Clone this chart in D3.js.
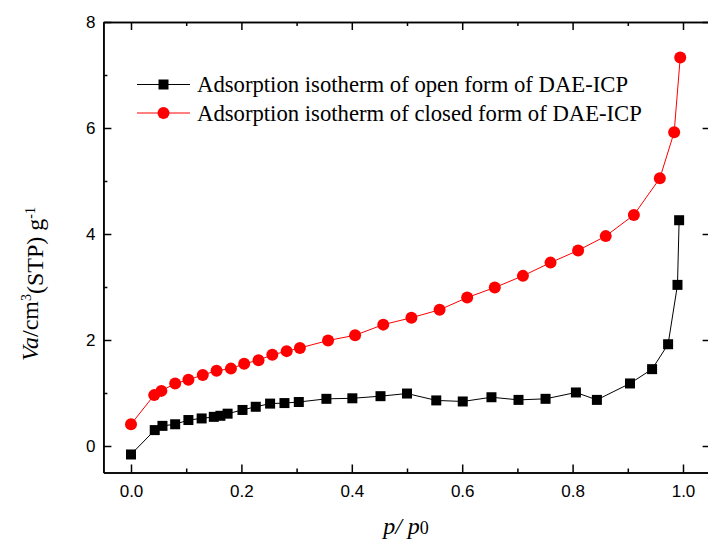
<!DOCTYPE html>
<html>
<head>
<meta charset="utf-8">
<script src="https://cdn.jsdelivr.net/npm/d3@7"></script>
<style>
  body { margin: 0; background: #fff; }
  .tick text { font-family: "Liberation Sans", Arial, sans-serif; font-size: 17px; fill: #000; }
  .axis path, .axis line { stroke: #000; stroke-width: 1.5; }
</style>
</head>
<body>
<script>
// open form (black squares)
var openX = [0, 0.043, 0.057, 0.080, 0.104, 0.128, 0.150, 0.162, 0.175, 0.202, 0.226, 0.252, 0.278, 0.304,
             0.354, 0.401, 0.452, 0.500, 0.553, 0.601, 0.653, 0.702, 0.751, 0.806, 0.844, 0.904, 0.944, 0.973, 0.990, 0.993];
var openY = [-0.16, 0.30, 0.38, 0.41, 0.49, 0.52, 0.55, 0.57, 0.61, 0.68, 0.74, 0.80, 0.81, 0.83,
             0.89, 0.90, 0.94, 0.99, 0.86, 0.84, 0.92, 0.87, 0.89, 1.01, 0.87, 1.18, 1.45, 1.92, 3.04, 4.26];

// closed form (red circles)
var closedX = [0, 0.042, 0.055, 0.080, 0.104, 0.130, 0.155, 0.181, 0.205, 0.231, 0.256, 0.282, 0.306, 0.357,
               0.406, 0.457, 0.508, 0.559, 0.609, 0.659, 0.710, 0.760, 0.810, 0.860, 0.911, 0.958, 0.984, 0.995];
var closedY = [0.41, 0.96, 1.04, 1.18, 1.25, 1.34, 1.42, 1.46, 1.55, 1.62, 1.72, 1.79, 1.85, 1.99,
               2.09, 2.29, 2.42, 2.57, 2.80, 2.99, 3.21, 3.46, 3.69, 3.96, 4.36, 5.05, 5.92, 7.33];

var xMajor = [0, 0.2, 0.4, 0.6, 0.8, 1.0];
var xMinor = [0.1, 0.3, 0.5, 0.7, 0.9];
var yMajor = [0, 2, 4, 6, 8];
var yMinor = [1, 3, 5, 7];

var legendLabels = ["Adsorption isotherm of open form of DAE-ICP",
                    "Adsorption isotherm of closed form of DAE-ICP"];

var W = 708, H = 547;
var plotL = 103.4, plotR = 710.6, plotT = 22, plotB = 472.5;

var svg = d3.select("body").append("svg")
    .attr("width", W)
    .attr("height", H);

var x = d3.scaleLinear().domain([-0.05, 1.05]).range([plotL, plotR]);
var y = d3.scaleLinear().domain([-0.5, 8]).range([plotB, plotT]);

// axes, ticks pointing inward
function drawAxes() {
  svg.append("g").attr("class", "axis")
    .attr("transform", "translate(0," + plotB + ")")
    .call(d3.axisBottom(x).tickValues(xMajor).tickFormat(d3.format(".1f"))
      .tickSizeInner(-8).tickSizeOuter(0).tickPadding(12));
  svg.append("g").attr("class", "axis")
    .attr("transform", "translate(0," + plotB + ")")
    .call(d3.axisBottom(x).tickValues(xMinor).tickFormat("").tickSizeInner(-4).tickSizeOuter(0));

  svg.append("g").attr("class", "axis")
    .attr("transform", "translate(0," + plotT + ")")
    .call(d3.axisTop(x).tickValues(xMajor).tickFormat("").tickSizeInner(-8).tickSizeOuter(0));
  svg.append("g").attr("class", "axis")
    .attr("transform", "translate(0," + plotT + ")")
    .call(d3.axisTop(x).tickValues(xMinor).tickFormat("").tickSizeInner(-4).tickSizeOuter(0));

  svg.append("g").attr("class", "axis")
    .attr("transform", "translate(" + plotL + ",0)")
    .call(d3.axisLeft(y).tickValues(yMajor).tickFormat(d3.format("d"))
      .tickSizeInner(-8).tickSizeOuter(0).tickPadding(8));
  svg.append("g").attr("class", "axis")
    .attr("transform", "translate(" + plotL + ",0)")
    .call(d3.axisLeft(y).tickValues(yMinor).tickFormat("").tickSizeInner(-4).tickSizeOuter(0));

  svg.append("g").attr("class", "axis")
    .attr("transform", "translate(" + plotR + ",0)")
    .call(d3.axisRight(y).tickValues(yMajor).tickFormat("").tickSizeInner(-8).tickSizeOuter(0));
}
drawAxes();

var line = d3.line().x(function(d) { return x(d[0]); }).y(function(d) { return y(d[1]); });

var openData = openX.map(function(v, i) { return [v, openY[i]]; });
var closedData = closedX.map(function(v, i) { return [v, closedY[i]]; });

svg.append("path").datum(openData)
  .attr("fill", "none").attr("stroke", "#000").attr("stroke-width", 1)
  .attr("d", line);
svg.append("path").datum(closedData)
  .attr("fill", "none").attr("stroke", "#ff0000").attr("stroke-width", 1)
  .attr("d", line);

var sq = 10, rad = 6;
svg.selectAll(".sq").data(openData).enter().append("rect")
  .attr("class", "sq")
  .attr("x", function(d) { return x(d[0]) - sq / 2; })
  .attr("y", function(d) { return y(d[1]) - sq / 2; })
  .attr("width", sq).attr("height", sq)
  .attr("fill", "#000");
svg.selectAll(".dot").data(closedData).enter().append("circle")
  .attr("class", "dot")
  .attr("cx", function(d) { return x(d[0]); })
  .attr("cy", function(d) { return y(d[1]); })
  .attr("r", rad)
  .attr("fill", "#ff0000");

// legend
var lg = svg.append("g").attr("transform", "translate(137,84.5)");
var colors = ["#000", "#ff0000"];
legendLabels.forEach(function(t, i) {
  var row = lg.append("g").attr("transform", "translate(0," + (i * 28.5) + ")");
  row.append("line").attr("x1", 0).attr("x2", 53).attr("y1", 0).attr("y2", 0)
    .attr("stroke", colors[i]).attr("stroke-width", 1);
  if (i == 0) {
    row.append("rect").attr("x", 26.5 - sq / 2).attr("y", -sq / 2)
      .attr("width", sq).attr("height", sq).attr("fill", "#000");
  } else {
    row.append("circle").attr("cx", 26.5).attr("cy", 0).attr("r", rad).attr("fill", "#ff0000");
  }
  row.append("text").attr("x", 60).attr("y", 0).attr("dy", "0.35em")
    .style("font-family", "'Liberation Serif', 'Times New Roman', serif")
    .style("font-size", "22.7px")
    .text(t);
});

// axis titles
var xt = svg.append("text")
  .attr("x", 406).attr("y", 534)
  .attr("text-anchor", "middle")
  .style("font-family", "'Liberation Serif', 'Times New Roman', serif")
  .style("font-size", "24px");
xt.append("tspan").style("font-style", "italic").text("p/ p");
xt.append("tspan").style("font-size", "18px").text("0");

var yt = svg.append("text")
  .attr("transform", "translate(38," + 284 + ") rotate(-90)")
  .attr("text-anchor", "middle")
  .style("font-family", "'Liberation Serif', 'Times New Roman', serif")
  .style("font-size", "24px");
yt.append("tspan").style("font-style", "italic").text("Va");
yt.append("tspan").text("/cm");
yt.append("tspan").attr("dy", "-0.5em").style("font-size", "14px").text("3");
yt.append("tspan").attr("dy", "0.5em").text("(STP) g");
yt.append("tspan").attr("dy", "-0.55em").style("font-size", "14px").text("-1");
</script>
</body>
</html>
